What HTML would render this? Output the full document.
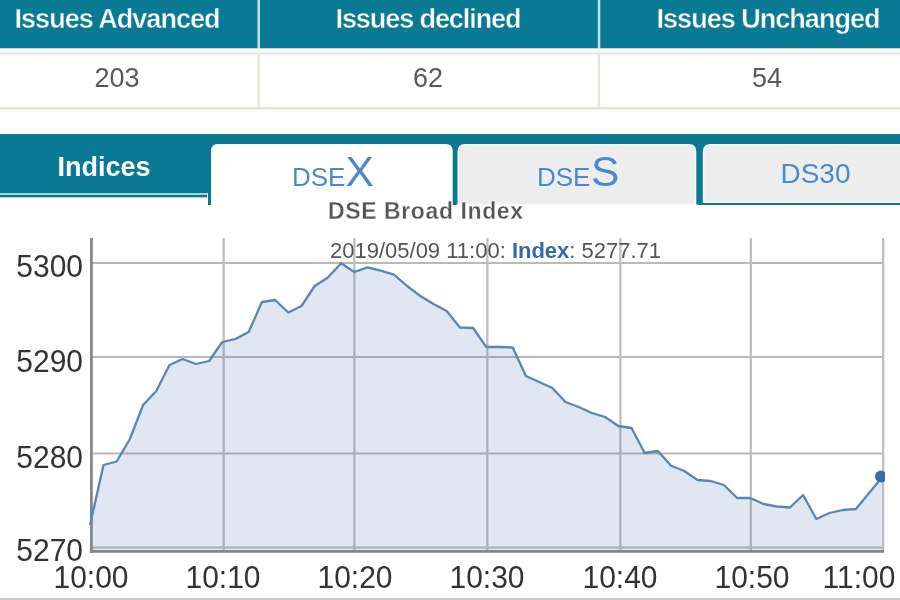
<!DOCTYPE html>
<html><head><meta charset="utf-8">
<style>
html,body{margin:0;padding:0;background:#fff;width:900px;height:600px;overflow:hidden}
svg{display:block;filter:blur(0.55px)}
text{font-family:"Liberation Sans",sans-serif}
</style></head><body>
<svg width="900" height="600" viewBox="0 0 900 600">
<rect x="0" y="0" width="900" height="48.5" fill="#0a7a94"/>
<rect x="257.5" y="0" width="2.5" height="49" fill="#b8e4e0"/>
<rect x="597.8" y="0" width="2.5" height="49" fill="#b8e4e0"/>
<rect x="0" y="48.5" width="900" height="4" fill="#fbfbf4"/>
<rect x="0" y="52.5" width="900" height="2.2" fill="#e9e8da"/>
<rect x="0" y="104" width="900" height="3" fill="#fdfdf8"/>
<rect x="257.5" y="54" width="2.3" height="54" fill="#e6e5d6"/>
<rect x="597.8" y="54" width="2.3" height="54" fill="#e6e5d6"/>
<rect x="0" y="107.2" width="900" height="2.2" fill="#e0dfd2"/>
<g fill="#fff" font-weight="bold" font-size="27" text-anchor="middle" stroke="#0a7a94" stroke-width="0.4">
<text x="117.5" y="28.3" textLength="206" lengthAdjust="spacing">Issues Advanced</text>
<text x="428.5" y="28.3" textLength="186" lengthAdjust="spacing">Issues declined</text>
<text x="768.5" y="28.3" textLength="224" lengthAdjust="spacing">Issues Unchanged</text>
</g>
<g fill="#5a5a5a" font-size="27" text-anchor="middle">
<text x="117" y="87">203</text>
<text x="428" y="87">62</text>
<text x="767" y="87">54</text>
</g>
<rect x="0" y="134" width="900" height="10" fill="#0a7a94"/>
<rect x="0" y="134" width="210" height="59" fill="#0a7a94"/>
<rect x="0" y="193" width="207" height="2" fill="#a6d4da"/>
<rect x="0" y="195" width="207" height="2.3" fill="#0a7a94"/>
<text x="104" y="176.3" fill="#fff" font-weight="bold" font-size="27" text-anchor="middle">Indices</text>
<rect x="208" y="134" width="692" height="71" fill="#0a7a94"/>
<path d="M211 205 V151 Q211 144 218 144 H445.5 Q452.7 144 452.7 151 V205 Z" fill="#fff"/>
<path d="M458.3 204.5 V151.5 Q458.3 144.8 465 144.8 H689 Q695.5 144.8 695.5 151.5 V204.5 Z" fill="#ededee" stroke="#f8f8f8" stroke-width="1.6"/>
<rect x="456" y="204.6" width="242" height="1" fill="#fff"/>
<path d="M703.6 202.2 V151.5 Q703.6 144.8 710.3 144.8 H901 V202.2 Z" fill="#ededee" stroke="#f8f8f8" stroke-width="1.6"/>
<text x="292" y="186" fill="#4a89d0" font-size="26">DSE<tspan font-size="42.5">X</tspan></text>
<text x="537" y="186.3" fill="#4a89d0" font-size="26">DSE<tspan font-size="42.5" dx="0.5">S</tspan></text>
<text x="815.5" y="183.3" fill="#4a89d0" font-size="28" text-anchor="middle">DS30</text>
<text x="328" y="218.7" fill="#555" font-weight="bold" font-size="23" letter-spacing="0.6" stroke="#fff" stroke-width="0.3">DSE Broad Index</text>
<g fill="#b9b9b9">
<rect x="90" y="262" width="794" height="2"/>
<rect x="90" y="356" width="794" height="2"/>
<rect x="90" y="452.5" width="794" height="2"/>
<rect x="90" y="546.5" width="794" height="2"/>
</g>
<g fill="#bfbfbf">
<rect x="222.5" y="238" width="2.3" height="312"/>
<rect x="353.2" y="238" width="2.3" height="312"/>
<rect x="486.2" y="238" width="2.3" height="312"/>
<rect x="619.2" y="238" width="2.3" height="312"/>
<rect x="749.7" y="238" width="2.3" height="312"/>
<rect x="882" y="238" width="2.3" height="312"/>
</g>
<path d="M90.3 524.0 L103.5 465.0 L116.7 461.5 L129.9 439.0 L143.1 405.0 L156.3 391.0 L169.5 365.0 L182.7 359.0 L195.9 364.0 L209.1 361.0 L222.3 342.0 L235.5 339.0 L248.7 332.0 L261.9 302.0 L275.1 300.0 L288.3 312.5 L301.5 306.0 L314.7 286.0 L327.9 277.5 L341.1 263.3 L354.3 272.0 L367.5 267.3 L380.7 270.7 L393.9 274.7 L407.1 286.0 L420.3 296.0 L433.5 304.0 L446.7 311.0 L459.9 327.5 L473.1 328.0 L486.3 347.0 L499.5 347.0 L512.7 347.5 L525.9 376.0 L539.1 382.0 L552.3 388.0 L565.5 402.0 L578.7 407.0 L591.9 413.0 L605.1 417.0 L618.3 426.0 L631.5 428.0 L644.7 453.0 L657.9 451.0 L671.1 465.8 L684.3 471.0 L697.5 480.0 L710.7 481.0 L723.9 485.0 L737.1 498.0 L750.3 498.0 L763.5 504.0 L776.7 506.5 L789.9 507.5 L803.1 495.0 L816.3 519.0 L829.5 513.0 L842.7 510.0 L855.9 509.0 L869.1 493.0 L882.3 477.0 L882.3 551 L90.3 551 Z" fill="rgba(69,114,167,0.168)"/>
<rect x="90" y="238" width="2.8" height="315" fill="#84878b"/>
<rect x="90" y="550" width="794" height="2.8" fill="#84878b"/>
<path d="M90.3 524.0 L103.5 465.0 L116.7 461.5 L129.9 439.0 L143.1 405.0 L156.3 391.0 L169.5 365.0 L182.7 359.0 L195.9 364.0 L209.1 361.0 L222.3 342.0 L235.5 339.0 L248.7 332.0 L261.9 302.0 L275.1 300.0 L288.3 312.5 L301.5 306.0 L314.7 286.0 L327.9 277.5 L341.1 263.3 L354.3 272.0 L367.5 267.3 L380.7 270.7 L393.9 274.7 L407.1 286.0 L420.3 296.0 L433.5 304.0 L446.7 311.0 L459.9 327.5 L473.1 328.0 L486.3 347.0 L499.5 347.0 L512.7 347.5 L525.9 376.0 L539.1 382.0 L552.3 388.0 L565.5 402.0 L578.7 407.0 L591.9 413.0 L605.1 417.0 L618.3 426.0 L631.5 428.0 L644.7 453.0 L657.9 451.0 L671.1 465.8 L684.3 471.0 L697.5 480.0 L710.7 481.0 L723.9 485.0 L737.1 498.0 L750.3 498.0 L763.5 504.0 L776.7 506.5 L789.9 507.5 L803.1 495.0 L816.3 519.0 L829.5 513.0 L842.7 510.0 L855.9 509.0 L869.1 493.0 L882.3 477.0" fill="none" stroke="#5886bb" stroke-width="2.3" stroke-linejoin="round" stroke-linecap="round"/>
<clipPath id="pc"><rect x="88" y="230" width="797" height="325"/></clipPath>
<circle cx="881" cy="476.5" r="6" fill="#3a6cb0" clip-path="url(#pc)"/>
<text x="330" y="258.2" fill="#555" font-size="22">2019/05/09 11:00: <tspan fill="#3669aa" font-weight="bold">Index</tspan>: 5277.71</text>
<g fill="#333" font-size="30"><text text-anchor="end" transform="translate(83,277) scale(1,1.07)">5300</text><text text-anchor="end" transform="translate(83,372) scale(1,1.07)">5290</text><text text-anchor="end" transform="translate(83,468) scale(1,1.07)">5280</text><text text-anchor="end" transform="translate(83,561) scale(1,1.07)">5270</text><text text-anchor="middle" transform="translate(91,587.5) scale(1,1.07)">10:00</text><text text-anchor="middle" transform="translate(223,587.5) scale(1,1.07)">10:10</text><text text-anchor="middle" transform="translate(355,587.5) scale(1,1.07)">10:20</text><text text-anchor="middle" transform="translate(487,587.5) scale(1,1.07)">10:30</text><text text-anchor="middle" transform="translate(620,587.5) scale(1,1.07)">10:40</text><text text-anchor="middle" transform="translate(752,587.5) scale(1,1.07)">10:50</text><text text-anchor="middle" transform="translate(859,587.5) scale(1,1.07)">11:00</text></g>
<rect x="0" y="598" width="900" height="2" fill="#cdcbc6"/>
</svg>
</body></html>
